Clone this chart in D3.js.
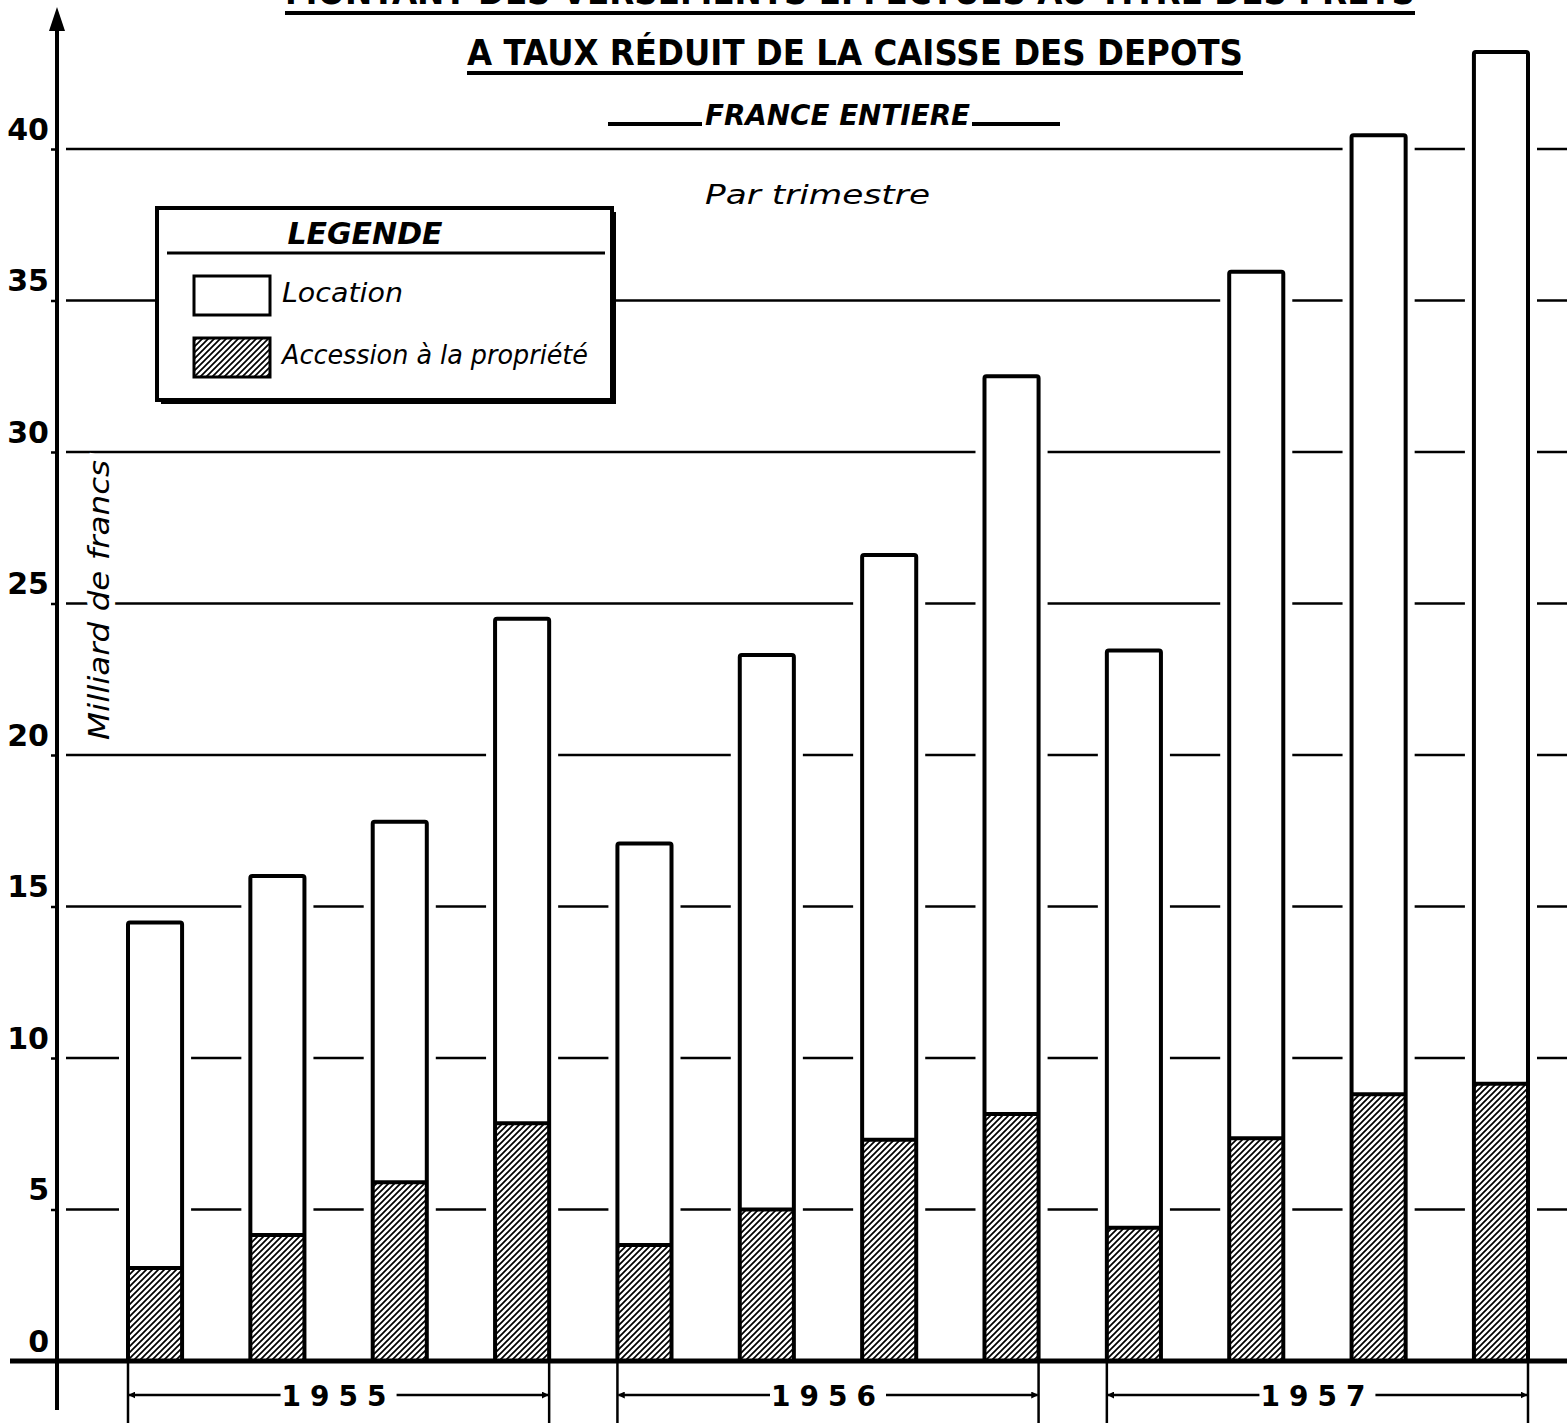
<!DOCTYPE html>
<html>
<head>
<meta charset="utf-8">
<script src="https://cdn.jsdelivr.net/npm/d3@7"></script>
<style>
  body { margin: 0; background: #fff; }
  svg { display: block; }
</style>
</head>
<body>
<script>
(function() {
    "use strict";

    // quarters, in order, grouped by year
    var categories = ["1955 T1", "1955 T2", "1955 T3", "1955 T4",
                      "1956 T1", "1956 T2", "1956 T3", "1956 T4",
                      "1957 T1", "1957 T2", "1957 T3", "1957 T4"];
    var years = ["1955", "1956", "1957"];

    // milliards de francs
    var accessionValues = [3.07, 4.16, 5.9, 7.85, 3.83, 5.0, 7.3, 8.15, 4.4, 7.35, 8.8, 9.15];
    var locationValues = [11.4, 11.85, 11.9, 16.65, 13.25, 18.3, 19.3, 24.35, 19.05, 28.6, 31.65, 34.05];

    var tickValues = [0, 5, 10, 15, 20, 25, 30, 35, 40];

    var WIDTH = 1567, HEIGHT = 1423;
    var AXIS_X = 57;
    var BASE_Y = 1361;
    var INK = "#000";

    var svg = d3.select("body").append("svg")
        .attr("width", WIDTH)
        .attr("height", HEIGHT);

    var y = d3.scaleLinear().domain([0, 40]).range([BASE_Y, BASE_Y - 40 * 30.3]);
    var x = d3.scaleBand().domain(categories).range([128, 1528]).paddingInner(0.558).paddingOuter(0);

    //hatch pattern for the "accession" part
    var defs = svg.append("defs");
    defs.append("pattern")
        .attr("id", "hatch")
        .attr("patternUnits", "userSpaceOnUse")
        .attr("width", 6)
        .attr("height", 6)
        .append("path")
        .attr("d", "M-1,1 l2,-2 M0,6 l6,-6 M5,7 l2,-2")
        .attr("stroke", INK)
        .attr("stroke-width", 1.7);

    defs.append("marker")
        .attr("id", "arrow")
        .attr("viewBox", "0 0 10 10")
        .attr("refX", 9).attr("refY", 5)
        .attr("markerWidth", 7).attr("markerHeight", 7)
        .attr("markerUnits", "userSpaceOnUse")
        .attr("orient", "auto-start-reverse")
        .append("path")
        .attr("d", "M0,0 L10,5 L0,10 Z")
        .attr("fill", INK);

    //titles (the first line is cut by the top of the sheet, as in the scan)
    svg.append("text")
        .attr("x", 285).attr("y", 4)
        .attr("textLength", 1130).attr("lengthAdjust", "spacingAndGlyphs")
        .attr("font-family", "DejaVu Sans").attr("font-weight", "bold").attr("font-size", 38)
        .text("MONTANT  DES  VERSEMENTS  EFFECTUÉS  AU  TITRE  DES  PRETS");
    svg.append("line").attr("x1", 285).attr("x2", 1415).attr("y1", 13).attr("y2", 13)
        .attr("stroke", INK).attr("stroke-width", 4);

    svg.append("text")
        .attr("x", 467).attr("y", 65)
        .attr("textLength", 776).attr("lengthAdjust", "spacingAndGlyphs")
        .attr("font-family", "DejaVu Sans").attr("font-weight", "bold").attr("font-size", 36)
        .text("A  TAUX  RÉDUIT  DE  LA  CAISSE  DES  DEPOTS");
    svg.append("line").attr("x1", 467).attr("x2", 1243).attr("y1", 73).attr("y2", 73)
        .attr("stroke", INK).attr("stroke-width", 4);

    svg.append("text")
        .attr("x", 705).attr("y", 125)
        .attr("textLength", 265).attr("lengthAdjust", "spacingAndGlyphs")
        .attr("font-family", "DejaVu Sans").attr("font-weight", "bold").attr("font-style", "italic").attr("font-size", 28)
        .text("FRANCE ENTIERE");
    svg.append("line").attr("x1", 608).attr("x2", 702).attr("y1", 124).attr("y2", 124)
        .attr("stroke", INK).attr("stroke-width", 4);
    svg.append("line").attr("x1", 972).attr("x2", 1060).attr("y1", 124).attr("y2", 124)
        .attr("stroke", INK).attr("stroke-width", 4);

    svg.append("text")
        .attr("x", 705).attr("y", 204)
        .attr("textLength", 225).attr("lengthAdjust", "spacingAndGlyphs")
        .attr("font-family", "DejaVu Sans").attr("font-style", "italic").attr("font-size", 26)
        .text("Par  trimestre");

    //gridlines, full width; the bars clear a gap round themselves
    svg.append("g").selectAll("line")
        .data(tickValues.filter(function(d) { return d > 0; }))
        .enter().append("line")
        .attr("x1", AXIS_X + 9).attr("x2", WIDTH)
        .attr("y1", function(d) { return y(d); })
        .attr("y2", function(d) { return y(d); })
        .attr("stroke", INK).attr("stroke-width", 2.5);

    //bars
    var bars = svg.append("g").selectAll("g")
        .data(categories)
        .enter().append("g");

    function total(i) { return accessionValues[i] + locationValues[i]; }

    bars.append("rect")	//white halo, cuts the gridlines
        .attr("x", function(d) { return x(d) - 9; })
        .attr("y", function(d, i) { return y(total(i)); })
        .attr("width", x.bandwidth() + 18)
        .attr("height", function(d, i) { return BASE_Y - y(total(i)); })
        .attr("fill", "#fff");

    bars.append("rect")
        .attr("x", function(d) { return x(d); })
        .attr("y", function(d, i) { return y(total(i)); })
        .attr("width", x.bandwidth())
        .attr("height", function(d, i) { return y(accessionValues[i]) - y(total(i)); })
        .attr("fill", "#fff");

    bars.append("rect")
        .attr("x", function(d) { return x(d); })
        .attr("y", function(d, i) { return y(accessionValues[i]); })
        .attr("width", x.bandwidth())
        .attr("height", function(d, i) { return BASE_Y - y(accessionValues[i]); })
        .attr("fill", "url(#hatch)");

    bars.append("line")
        .attr("x1", function(d) { return x(d); })
        .attr("x2", function(d) { return x(d) + x.bandwidth(); })
        .attr("y1", function(d, i) { return y(accessionValues[i]); })
        .attr("y2", function(d, i) { return y(accessionValues[i]); })
        .attr("stroke", INK).attr("stroke-width", 4);

    bars.append("rect")
        .attr("x", function(d) { return x(d); })
        .attr("y", function(d, i) { return y(total(i)); })
        .attr("width", x.bandwidth())
        .attr("height", function(d, i) { return BASE_Y - y(total(i)); })
        .attr("rx", 2)
        .attr("fill", "none")
        .attr("stroke", INK).attr("stroke-width", 4);

    //y axis with hand-lettered labels sitting above each line
    var yAxis = svg.append("g")
        .attr("transform", "translate(" + AXIS_X + ",0)")
        .call(d3.axisLeft(y).tickValues(tickValues).tickSize(6).tickPadding(8).tickFormat(d3.format("d")));
    yAxis.select(".domain").remove();
    yAxis.selectAll(".tick line").attr("stroke", INK).attr("stroke-width", 2.5);
    yAxis.selectAll(".tick text")
        .attr("x", -8)
        .attr("dy", "-0.32em")
        .attr("font-family", "DejaVu Sans").attr("font-weight", "bold").attr("font-size", 30)
        .attr("fill", INK);

    svg.append("line")
        .attr("x1", AXIS_X).attr("x2", AXIS_X)
        .attr("y1", 24).attr("y2", 1410)
        .attr("stroke", INK).attr("stroke-width", 4);
    svg.append("path")
        .attr("d", "M" + AXIS_X + ",7 L" + (AXIS_X - 8) + ",31 L" + (AXIS_X + 8) + ",31 Z")
        .attr("fill", INK);

    svg.append("line")
        .attr("x1", 10).attr("x2", WIDTH)
        .attr("y1", BASE_Y).attr("y2", BASE_Y)
        .attr("stroke", INK).attr("stroke-width", 5);

    //unit label, with a white halo so the gridline breaks round it
    svg.append("text")
        .attr("transform", "translate(109,600) rotate(-90)")
        .attr("text-anchor", "middle")
        .attr("textLength", 280).attr("lengthAdjust", "spacingAndGlyphs")
        .attr("font-family", "DejaVu Sans").attr("font-style", "italic").attr("font-size", 28)
        .attr("stroke", "#fff").attr("stroke-width", 12).attr("paint-order", "stroke")
        .attr("fill", INK)
        .text("Milliard  de  francs");

    //year brackets under the axis
    var yearGroups = svg.append("g").selectAll("g")
        .data(years)
        .enter().append("g");

    function yearLeft(yr) { return x(yr + " T1"); }
    function yearRight(yr) { return x(yr + " T4") + x.bandwidth(); }

    yearGroups.append("line")
        .attr("x1", yearLeft).attr("x2", yearLeft)
        .attr("y1", BASE_Y).attr("y2", HEIGHT)
        .attr("stroke", INK).attr("stroke-width", 2.5);
    yearGroups.append("line")
        .attr("x1", yearRight).attr("x2", yearRight)
        .attr("y1", BASE_Y).attr("y2", HEIGHT)
        .attr("stroke", INK).attr("stroke-width", 2.5);
    yearGroups.append("line")
        .attr("x1", function(d) { return yearLeft(d) + 1; })
        .attr("x2", function(d) { return (yearLeft(d) + yearRight(d)) / 2 - 58; })
        .attr("y1", 1395).attr("y2", 1395)
        .attr("stroke", INK).attr("stroke-width", 2.5)
        .attr("marker-start", "url(#arrow)");
    yearGroups.append("line")
        .attr("x1", function(d) { return (yearLeft(d) + yearRight(d)) / 2 + 58; })
        .attr("x2", function(d) { return yearRight(d) - 1; })
        .attr("y1", 1395).attr("y2", 1395)
        .attr("stroke", INK).attr("stroke-width", 2.5)
        .attr("marker-end", "url(#arrow)");
    yearGroups.append("text")
        .attr("x", function(d) { return (yearLeft(d) + yearRight(d)) / 2; })
        .attr("y", 1406)
        .attr("text-anchor", "middle")
        .attr("letter-spacing", 9)
        .attr("font-family", "DejaVu Sans").attr("font-weight", "bold").attr("font-size", 28)
        .text(function(d) { return d; });

    //legend box
    var legend = svg.append("g").attr("transform", "translate(157,208)");
    legend.append("rect")
        .attr("x", 4).attr("y", 4).attr("width", 455).attr("height", 192)
        .attr("fill", INK);
    legend.append("rect")
        .attr("x", 0).attr("y", 0).attr("width", 455).attr("height", 192)
        .attr("fill", "#fff").attr("stroke", INK).attr("stroke-width", 4);
    legend.append("text")
        .attr("x", 208).attr("y", 36)
        .attr("text-anchor", "middle")
        .attr("font-family", "DejaVu Sans").attr("font-weight", "bold").attr("font-style", "italic").attr("font-size", 30)
        .text("LEGENDE");
    legend.append("line")
        .attr("x1", 10).attr("x2", 448).attr("y1", 45).attr("y2", 45)
        .attr("stroke", INK).attr("stroke-width", 3);

    var legendItems = [
        { label: "Location", fill: "#fff", len: 121 },
        { label: "Accession à la propriété", fill: "url(#hatch)", len: 306 }
    ];
    var items = legend.selectAll("g.item")
        .data(legendItems)
        .enter().append("g")
        .attr("class", "item")
        .attr("transform", function(d, i) { return "translate(0," + (i * 62) + ")"; });
    items.append("rect")
        .attr("x", 37).attr("y", 68).attr("width", 76).attr("height", 39)
        .attr("fill", function(d) { return d.fill; })
        .attr("stroke", INK).attr("stroke-width", 3);
    items.append("text")
        .attr("x", 125).attr("y", 94)
        .attr("textLength", function(d) { return d.len; }).attr("lengthAdjust", "spacingAndGlyphs")
        .attr("font-family", "DejaVu Sans").attr("font-style", "italic").attr("font-size", 26)
        .text(function(d) { return d.label; });
}());
</script>
</body>
</html>
